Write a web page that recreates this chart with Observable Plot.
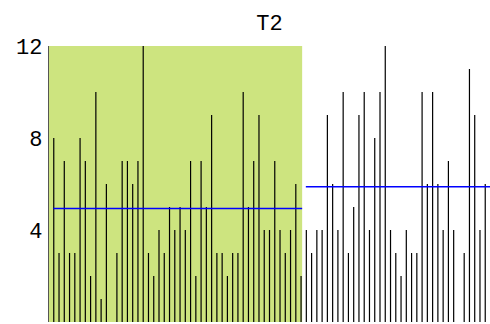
<!DOCTYPE html>
<html><head><meta charset="utf-8">
<script src="https://cdn.jsdelivr.net/npm/d3@7"></script>
<script src="https://cdn.jsdelivr.net/npm/@observablehq/plot@0.6"></script>
<style>body{margin:0;background:#fff}</style>
</head><body><div id="chart"></div>
<script>
const title = "T2";
const leftValues = [8,3,7,3,3,8,7,2,10,1,6,0,3,7,7,6,7,12,3,2,4,3,5,4,
                    5,4,7,2,7,5,9,3,3,2,3,3,10,5,7,9,4,4,7,4,3,4,6,2];
const rightValues = [4,3,4,4,9,6,4,10,3,5,9,10,4,8,10,12,4,3,2,4,3,3,10,6,10,6,4,7,4,0,3,11,9,4,6];
const groupMeans = [4.96, 5.9];
const yTicks = [4, 8, 12];

const nL = leftValues.length, nR = rightValues.length;
const data = [
  ...leftValues.map((v, i) => ({i: i + 1, v})),
  ...rightValues.map((v, j) => ({i: nL + 1 + j, v}))
];
const total = nL + nR + 1;
const split = nL + 0.3;
const band = [{x1: 0, x2: split}];
const means = [
  {m: groupMeans[0], x1: 1, x2: split},
  {m: groupMeans[1], x1: nL + 1, x2: total}
];
const font = "'Liberation Mono', 'Courier New', monospace";

const chart = Plot.plot({
  width: 490, height: 324,
  marginLeft: 48, marginRight: 0, marginTop: 46, marginBottom: 2,
  style: {fontFamily: font, background: "white"},
  x: {domain: [0, total], axis: null},
  y: {domain: [0, 12], label: null},
  marks: [
    Plot.rect(band, {x1: "x1", x2: "x2", y1: 0, y2: 12, fill: "#cde47f"}),
    Plot.ruleX(data, {x: "i", y1: 0, y2: "v", stroke: "black", strokeWidth: 1.2}),
    Plot.ruleY(means, {y: "m", x1: "x1", x2: "x2", stroke: "#0000ff", strokeWidth: 1.5}),
    Plot.ruleX([0], {stroke: "#555", strokeWidth: 1}),
    Plot.axisY(yTicks, {tickSize: 3, tickPadding: 3, fontSize: 22, fill: "black", stroke: null, style: "letter-spacing:2px"}),
    Plot.text([title], {frameAnchor: "top", dy: -17, lineAnchor: "bottom", fontSize: 22, fill: "black", style: "letter-spacing:2px"})
  ]
});
document.getElementById("chart").append(chart);
</script>
</body></html>
